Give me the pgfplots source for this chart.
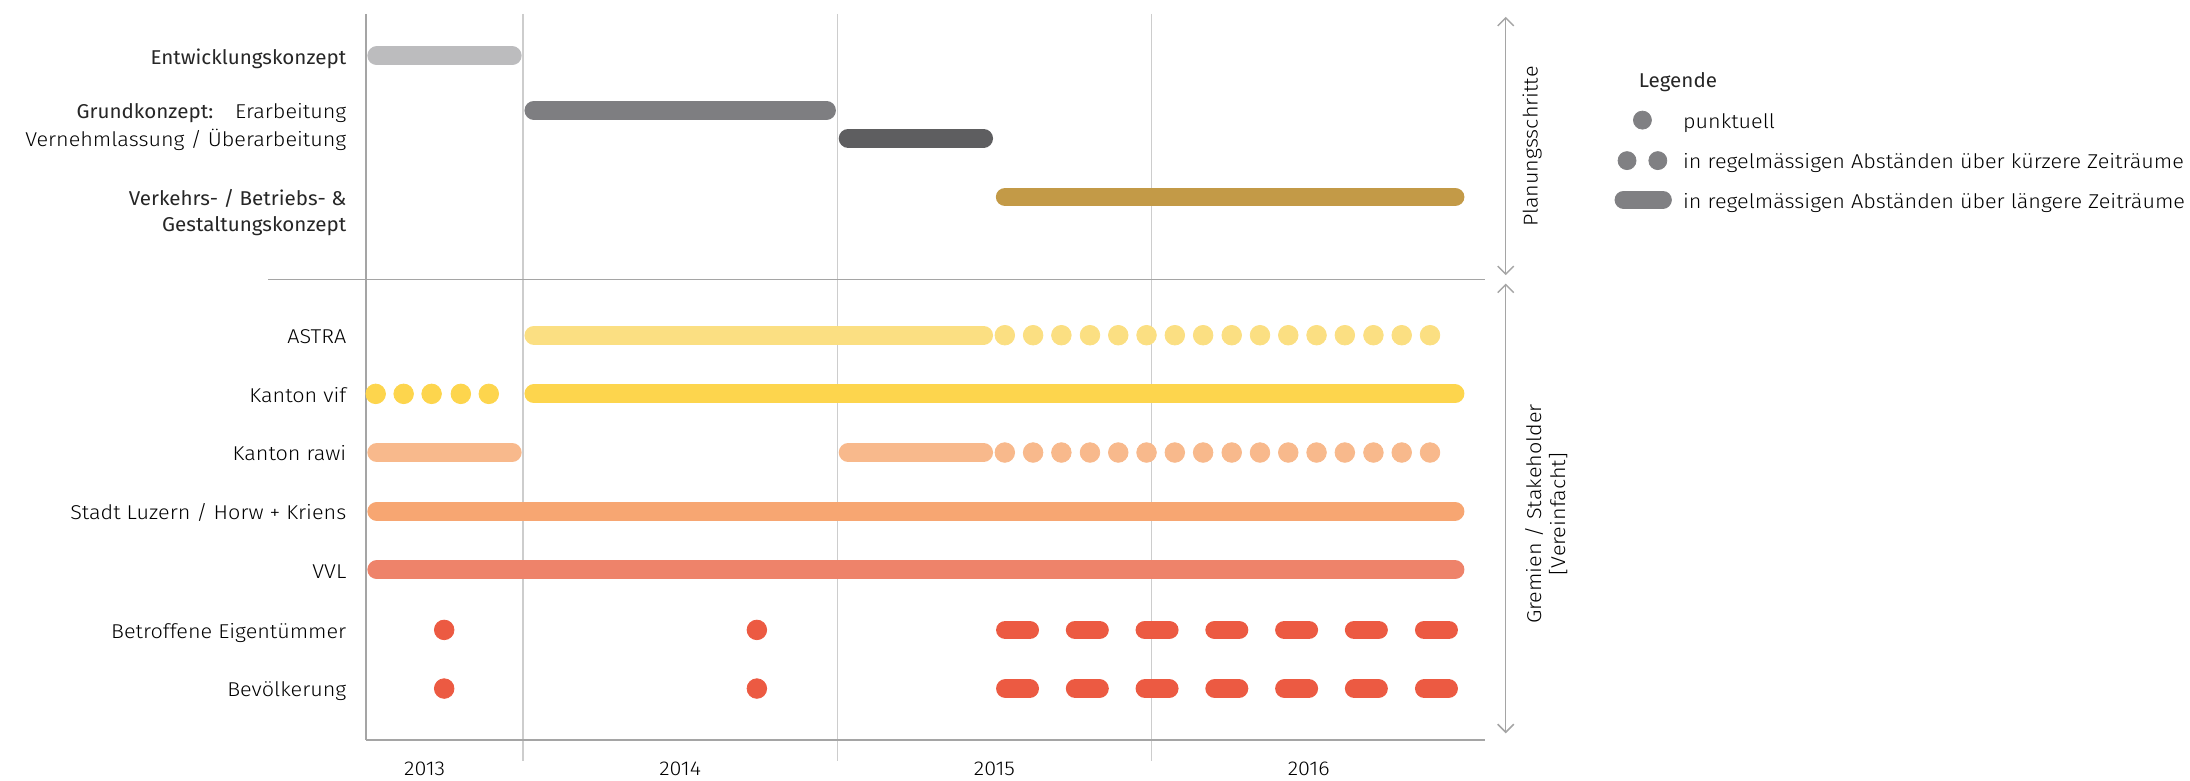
\documentclass[border=0pt]{standalone}
\usepackage{pgfplots}
\pgfplotsset{compat=1.18}
\usetikzlibrary{arrows.meta}
\usepackage{fontspec}
\setmainfont{Fira Sans Light}[FakeStretch=1.08]
\newfontfamily\regf{Fira Sans}[FakeStretch=1.03]
\newcommand\fs{\fontsize{13pt}{15.5pt}\selectfont}
\definecolor{cEnt}{HTML}{BCBCBE}
\definecolor{cErar}{HTML}{7E7E81}
\definecolor{cVern}{HTML}{5E5E60}
\definecolor{cVerk}{HTML}{C39A47}
\definecolor{cAstra}{HTML}{FBDF82}
\definecolor{cVif}{HTML}{FDD54D}
\definecolor{cRawi}{HTML}{F8B98C}
\definecolor{cStadt}{HTML}{F7A672}
\definecolor{cVVL}{HTML}{EE836A}
\definecolor{cBev}{HTML}{EC5A42}
\definecolor{cLeg}{HTML}{808083}
\definecolor{cGrid}{HTML}{CDCDCD}
\definecolor{cAxis}{HTML}{A5A5A5}
\definecolor{txtD}{HTML}{262626}
\definecolor{txtL}{HTML}{3C3C3C}
\begin{document}
\begin{tikzpicture}
\useasboundingbox (0,0) rectangle (1095pt,390.37pt);
\begin{axis}[
  at={(182.97pt,20.25pt)}, anchor=south west,
  scale only axis, width=559.37pt, height=363.14pt,
  xmin=2013.5, xmax=2017.06, ymin=10, ymax=530, y dir=reverse,
  axis lines=none, clip=false, unbounded coords=jump,
  bar/.style={line width=9.4pt, line cap=round, shorten <=5.4pt, shorten >=5.4pt, mark=none},
  dots/.style={only marks, mark=*, mark size=4.9pt},
  dash/.style={line width=9.4pt, line cap=round, mark=none},
  every node/.append style={font=\fs, text=txtL},
]
% frame and grid
\draw[cGrid, line width=0.75pt] (axis cs:2014,10) -- (axis cs:2014,545);
\draw[cGrid, line width=0.75pt] (axis cs:2015,10) -- (axis cs:2015,545);
\draw[cGrid, line width=0.75pt] (axis cs:2016,10) -- (axis cs:2016,545);
\draw[cAxis, line width=0.75pt] (axis cs:2013.5,10) -- (axis cs:2013.5,530);
\draw[cAxis, line width=0.9pt] (axis cs:2013.5,530) -- (axis cs:2017.06,530);
\draw[cAxis, line width=0.75pt] (axis cs:2013.189,200) -- (axis cs:2017.06,200);
\draw[cAxis, line width=0.75pt, {Straight Barb[length=4pt,width=8pt]}-{Straight Barb[length=4pt,width=8pt]}] (axis cs:2017.127,12) -- (axis cs:2017.127,197);
\draw[cAxis, line width=0.75pt, {Straight Barb[length=4pt,width=8pt]}-{Straight Barb[length=4pt,width=8pt]}] (axis cs:2017.127,203) -- (axis cs:2017.127,525);

% Planungsschritte
\addplot[bar, cEnt] coordinates {(2013.5,40) (2014.0,40)};
\addplot[bar, cErar] coordinates {(2014.0,79) (2015.0,79)};
\addplot[bar, cVern] coordinates {(2015.0,99) (2015.5,99)};
\addplot[bar, cVerk] coordinates {(2015.5,141) (2017.0,141)};

% ASTRA
\addplot[bar, cAstra] coordinates {(2014.0,240) (2015.5,240)};
\addplot[dots, cAstra] coordinates {(2015.533,240) (2015.623,240) (2015.713,240) (2015.804,240) (2015.894,240) (2015.984,240) (2016.074,240) (2016.164,240) (2016.255,240) (2016.345,240) (2016.435,240) (2016.525,240) (2016.615,240) (2016.706,240) (2016.796,240) (2016.886,240)};
% Kanton vif
\addplot[dots, cVif] coordinates {(2013.531,282) (2013.620,282) (2013.709,282) (2013.802,282) (2013.891,282)};
\addplot[bar, cVif] coordinates {(2014.0,282) (2017.0,282)};
% Kanton rawi
\addplot[bar, cRawi] coordinates {(2013.5,324) (2014.0,324)};
\addplot[bar, cRawi] coordinates {(2015.0,324) (2015.5,324)};
\addplot[dots, cRawi] coordinates {(2015.533,324) (2015.623,324) (2015.713,324) (2015.804,324) (2015.894,324) (2015.984,324) (2016.074,324) (2016.164,324) (2016.255,324) (2016.345,324) (2016.435,324) (2016.525,324) (2016.615,324) (2016.706,324) (2016.796,324) (2016.886,324)};
% Stadt Luzern
\addplot[bar, cStadt] coordinates {(2013.5,366) (2017.0,366)};
% VVL
\addplot[bar, cVVL] coordinates {(2013.5,408) (2017.0,408)};
% Betroffene Eigentuemer
\addplot[dots, cBev] coordinates {(2013.749,451) (2014.744,451)};
\addplot[dash, cBev] coordinates {(2015.535,451) (2015.612,451) (2015.7,nan) (2015.757,451) (2015.834,451) (2015.9,nan) (2015.979,451) (2016.056,451) (2016.1,nan) (2016.201,451) (2016.278,451) (2016.35,nan) (2016.423,451) (2016.500,451) (2016.55,nan) (2016.645,451) (2016.722,451) (2016.8,nan) (2016.868,451) (2016.945,451)};
% Bevoelkerung
\addplot[dots, cBev] coordinates {(2013.749,493) (2014.744,493)};
\addplot[dash, cBev] coordinates {(2015.535,493) (2015.612,493) (2015.7,nan) (2015.757,493) (2015.834,493) (2015.9,nan) (2015.979,493) (2016.056,493) (2016.1,nan) (2016.201,493) (2016.278,493) (2016.35,nan) (2016.423,493) (2016.500,493) (2016.55,nan) (2016.645,493) (2016.722,493) (2016.8,nan) (2016.868,493) (2016.945,493)};

% legend symbols
\addplot[dots, cLeg, mark size=4.5pt] coordinates {(2017.562,86)};
\addplot[dots, cLeg, mark size=4.5pt] coordinates {(2017.513,115) (2017.611,115)};
\addplot[dash, cLeg, line width=9pt] coordinates {(2017.502,143) (2017.627,143)};

% row labels
\node[anchor=base east, text=txtD] at (axis cs:2013.46,46) {\regf Entwicklungskonzept};
\node[anchor=base east] at (axis cs:2013.46,85) {{\regf\color{txtD}Grundkonzept:}\hspace{11pt}Erarbeitung};
\node[anchor=base east] at (axis cs:2013.46,105) {Vernehmlassung / Überarbeitung};
\node[anchor=base east, text=txtD] at (axis cs:2013.46,147) {\regf Verkehrs- / Betriebs- \&};
\node[anchor=base east, text=txtD] at (axis cs:2013.46,166) {\regf Gestaltungskonzept};
\node[anchor=base east] at (axis cs:2013.46,246) {ASTRA};
\node[anchor=base east] at (axis cs:2013.46,288) {Kanton vif};
\node[anchor=base east] at (axis cs:2013.46,330) {Kanton rawi};
\node[anchor=base east] at (axis cs:2013.46,372) {Stadt Luzern / Horw + Kriens};
\node[anchor=base east] at (axis cs:2013.46,414) {VVL};
\node[anchor=base east] at (axis cs:2013.46,457) {Betroffene Eigentümmer};
\node[anchor=base east] at (axis cs:2013.46,499) {Bevölkerung};
% years
\node[anchor=base] at (axis cs:2013.687,555) {2013};
\node[anchor=base] at (axis cs:2014.5,555) {2014};
\node[anchor=base] at (axis cs:2015.5,555) {2015};
\node[anchor=base] at (axis cs:2016.5,555) {2016};
% side labels
\node[rotate=90] at (axis cs:2017.211,105) {Planungsschritte};
\node[rotate=90, align=center] at (axis cs:2017.256,368) {Gremien / Stakeholder\\{[Vereinfacht]}};
% legend texts
\node[anchor=base west, text=txtD] at (axis cs:2017.528,63) {\regf Legende};
\node[anchor=base west] at (axis cs:2017.669,92) {punktuell};
\node[anchor=base west] at (axis cs:2017.669,121) {in regelmässigen Abständen über kürzere Zeiträume};
\node[anchor=base west] at (axis cs:2017.669,149) {in regelmässigen Abständen über längere Zeiträume};
\end{axis}
\end{tikzpicture}
\end{document}
